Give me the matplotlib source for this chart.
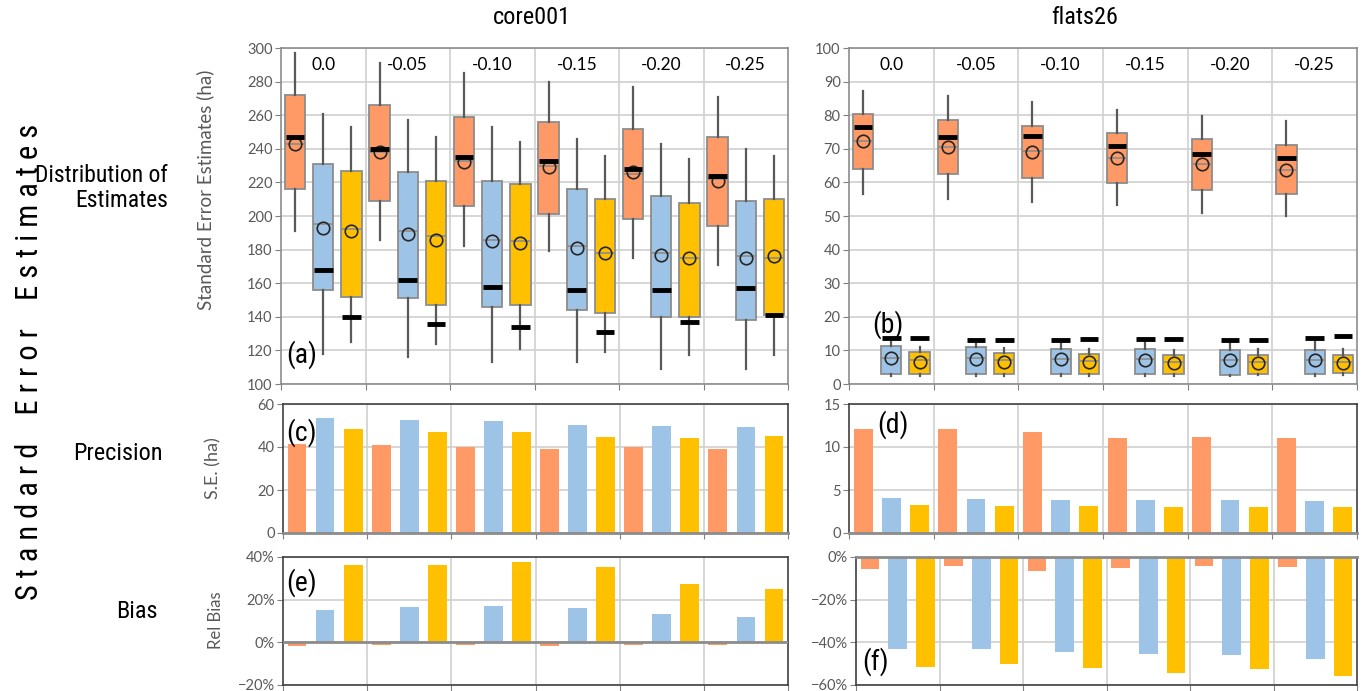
import numpy as np
import matplotlib
matplotlib.use("Agg")
import matplotlib.pyplot as plt
from matplotlib.ticker import PercentFormatter

W, H = 1364, 691

groups = ['0.0', '-0.05', '-0.10', '-0.15', '-0.20', '-0.25']
colors = ['#FF9966', '#9DC3E6', '#FFC000']

# core001 box data, one list per method (orange, blue, yellow)
core_hi = [[297, 291, 285, 280, 277, 271], [261, 257, 253, 246, 243, 240], [253, 247, 244, 236, 234, 236]]
core_q3 = [[272, 266, 259, 256, 252, 247], [231, 226, 221, 216, 212, 209], [227, 221, 219, 210, 208, 210]]
core_q1 = [[216, 209, 206, 201, 198, 194], [156, 151, 146, 144, 140, 138], [152, 147, 147, 142, 140, 141]]
core_lo = [[191, 186, 182, 179, 175, 171], [118, 116, 113, 113, 109, 109], [125, 124, 121, 119, 117, 117]]
core_med = [[243, 238, 233, 230, 225, 222], [195, 191, 186, 182, 178, 176], [192, 188, 185, 178, 175, 175]]
core_mean = [[243, 238, 232, 229, 226, 221], [193, 189, 185, 181, 177, 175], [191, 186, 184, 178, 175, 176]]
core_true = [[247, 240, 235, 233, 228, 224], [168, 162, 158, 156, 156, 157], [140, 136, 134, 131, 137, 141]]

# flats26 box data
flat_hi = [[87.3, 85.8, 83.8, 81.6, 79.9, 78.2], [13.0, 12.7, 12.7, 12.7, 12.5, 12.4], [11.0, 10.7, 10.4, 10.2, 10.4, 10.4]]
flat_q3 = [[80.4, 78.6, 76.8, 74.6, 73.0, 71.0], [11.2, 10.9, 10.5, 10.3, 10.2, 10.0], [9.4, 9.2, 8.9, 8.6, 8.6, 8.7]]
flat_q1 = [[64.0, 62.4, 61.4, 59.7, 57.8, 56.5], [3.1, 3.0, 3.0, 2.9, 2.8, 3.0], [3.1, 3.0, 3.0, 2.9, 3.0, 3.2]]
flat_lo = [[56.6, 55.2, 54.3, 53.2, 50.8, 49.9], [2.5, 2.5, 2.5, 2.4, 2.4, 2.3], [2.5, 2.5, 2.5, 2.5, 2.6, 2.6]]
flat_med = [[72.2, 70.4, 69.2, 67.2, 65.6, 63.8], [7.7, 7.7, 7.5, 7.3, 7.1, 7.2], [7.2, 7.0, 6.9, 6.6, 6.6, 6.5]]
flat_mean = [[72.2, 70.4, 68.9, 67.3, 65.4, 63.8], [7.7, 7.5, 7.4, 7.2, 7.0, 7.0], [6.6, 6.6, 6.6, 6.2, 6.2, 6.2]]
flat_true = [[76.5, 73.6, 73.9, 70.9, 68.5, 67.2], [13.6, 13.2, 13.1, 13.4, 13.1, 13.8], [13.6, 13.0, 13.4, 13.4, 13.1, 14.2]]

# precision (S.E., ha) and relative bias (%)
core_se = [[41.2, 40.7, 40.1, 39.2, 40.0, 38.9], [53.3, 52.4, 51.9, 50.1, 49.6, 49.1], [48.2, 46.8, 46.8, 44.5, 44.0, 44.9]]
flat_se = [[12.05, 12.05, 11.7, 11.1, 11.2, 11.1], [4.12, 4.0, 3.89, 3.89, 3.89, 3.77], [3.3, 3.19, 3.19, 3.07, 3.07, 3.07]]
core_bias = [[-1.6, -1.1, -1.1, -1.6, -1.1, -1.1], [15.1, 16.5, 17.0, 16.0, 13.2, 11.8], [36.1, 36.1, 37.5, 35.2, 27.2, 24.9]]
flat_bias = [[-5.6, -4.2, -6.5, -5.1, -4.2, -4.7], [-43.0, -43.0, -44.4, -45.4, -45.8, -47.6], [-51.4, -50.0, -51.9, -54.2, -52.4, -55.6]]

narrow = ['Roboto Condensed', 'Roboto', 'DejaVu Sans']
plt.rcParams['font.family'] = ['Lato', 'DejaVu Sans']

fig = plt.figure(figsize=(W / 100, H / 100), dpi=100)


def add_ax(l, t, r, b):
    return fig.add_axes([l / W, 1 - b / H, (r - l) / W, (b - t) / H])


def positions(k):
    return np.arange(len(groups)) * 3 + k + 0.5


def style(ax, ylim, step, spine_col, pct=False):
    ax.set_xlim(0, 18)
    ax.set_ylim(*ylim)
    ax.set_yticks(np.arange(ylim[0], ylim[1] + step / 2, step))
    ax.set_xticks(np.arange(0, 19, 3))
    ax.set_xticklabels([])
    ax.tick_params(axis='x', length=4, color='#808080', direction='out')
    ax.tick_params(axis='y', length=4, color='#808080', labelsize=10.5, labelcolor='#595959', pad=2)
    ax.grid(axis='y', color='#d0d0d0', lw=1.2)
    ax.set_axisbelow(True)
    for x in range(3, 18, 3):
        ax.axvline(x, color='#d0d0d0', lw=1.2, zorder=0)
    for s in ax.spines.values():
        s.set_color(spine_col)
        s.set_linewidth(1.2)
    if pct:
        ax.yaxis.set_major_formatter(PercentFormatter(decimals=0))


def boxes(ax, hi, q3, q1, lo, med, mean, true):
    for k in range(3):
        stats = []
        for g in range(len(groups)):
            stats.append({'whishi': hi[k][g], 'q3': q3[k][g], 'q1': q1[k][g], 'whislo': lo[k][g],
                          'med': med[k][g], 'mean': mean[k][g], 'fliers': []})
        pos = positions(k)
        ax.bxp(stats, positions=pos, widths=0.72, patch_artist=True, showmeans=True,
               showcaps=False, manage_ticks=False,
               boxprops=dict(facecolor=colors[k], edgecolor='#8c8c8c', lw=1.3),
               medianprops=dict(color='#8c8c8c', lw=1.2),
               whiskerprops=dict(color='#595959', lw=1.6),
               meanprops=dict(marker='o', mfc='none', mec='#262626', ms=9, mew=1.2))
        ax.hlines(true[k], pos - 0.33, pos + 0.33, color='black', lw=3.5, zorder=5)


def bars(ax, vals):
    for k in range(3):
        ax.bar(positions(k), vals[k], width=0.67, color=colors[k], zorder=2)


def tag(ax, x, y, s):
    ax.text(x, y, s, transform=ax.transAxes, fontsize=20, family=narrow, ha='left', va='center')


axa = add_ax(281, 48, 788, 384)
axb = add_ax(849, 48, 1357, 384)
axc = add_ax(283, 404, 788, 533)
axd = add_ax(849, 404, 1357, 533)
axe = add_ax(283, 557, 788, 685)
axf = add_ax(856, 557, 1357, 685)

style(axa, (100, 300), 20, '#8c8c8c')
style(axb, (0, 100), 10, '#8c8c8c')
style(axc, (0, 60), 20, '#404040')
style(axd, (0, 15), 5, '#404040')
style(axe, (-20, 40), 20, '#404040', pct=True)
style(axf, (-60, 0), 20, '#404040', pct=True)

boxes(axa, core_hi, core_q3, core_q1, core_lo, core_med, core_mean, core_true)
boxes(axb, flat_hi, flat_q3, flat_q1, flat_lo, flat_med, flat_mean, flat_true)
bars(axc, core_se)
bars(axd, flat_se)
bars(axe, core_bias)
bars(axf, flat_bias)

for ax in (axc, axd):
    ax.spines['bottom'].set_color('#8c8c8c')
    ax.spines['bottom'].set_linewidth(2)
axe.axhline(0, color='#8c8c8c', lw=2, zorder=3)
axf.spines['top'].set_color('#8c8c8c')
axf.spines['top'].set_linewidth(2)

for ax in (axa, axb):
    for g, lab in enumerate(groups):
        ax.text(g * 3 + 1.5, 0.95, lab, transform=ax.get_xaxis_transform(),
                ha='center', va='center', fontsize=12.5)

tag(axa, 0.010, 0.086, '(a)')
tag(axb, 0.045, 0.176, '(b)')
tag(axc, 0.006, 0.78, '(c)')
tag(axd, 0.055, 0.84, '(d)')
tag(axe, 0.006, 0.80, '(e)')
tag(axf, 0.012, 0.18, '(f)')

fig.text(532 / W, 1 - 18 / H, 'core001', ha='center', va='center', fontsize=17.5, family=narrow)
fig.text(1085 / W, 1 - 18 / H, 'flats26', ha='center', va='center', fontsize=17.5, family=narrow)

fig.text(205 / W, 1 - 190 / H, 'Standard Error Estimates (ha)', rotation=90, ha='center', va='center',
         fontsize=13.5, color='#595959')
fig.text(213 / W, 1 - 468 / H, 'S.E. (ha)', rotation=90, ha='center', va='center', fontsize=13, color='#595959')
fig.text(216 / W, 1 - 620 / H, 'Rel Bias', rotation=90, ha='center', va='center', fontsize=12, color='#595959')

fig.text(30 / W, 1 - 362 / H, ' '.join('Standard Error Estimates').replace('   ', '    '), rotation=90,
         ha='center', va='center', fontsize=22, family=narrow)
fig.text(168 / W, 1 - 188 / H, 'Distribution of\nEstimates', ha='right', va='center', fontsize=17,
         family=narrow, linespacing=1.1)
fig.text(118 / W, 1 - 453 / H, 'Precision', ha='center', va='center', fontsize=17.5, family=narrow)
fig.text(137 / W, 1 - 611 / H, 'Bias', ha='center', va='center', fontsize=17.5, family=narrow)

fig.savefig('out.png', dpi=100)
plt.close(fig)
